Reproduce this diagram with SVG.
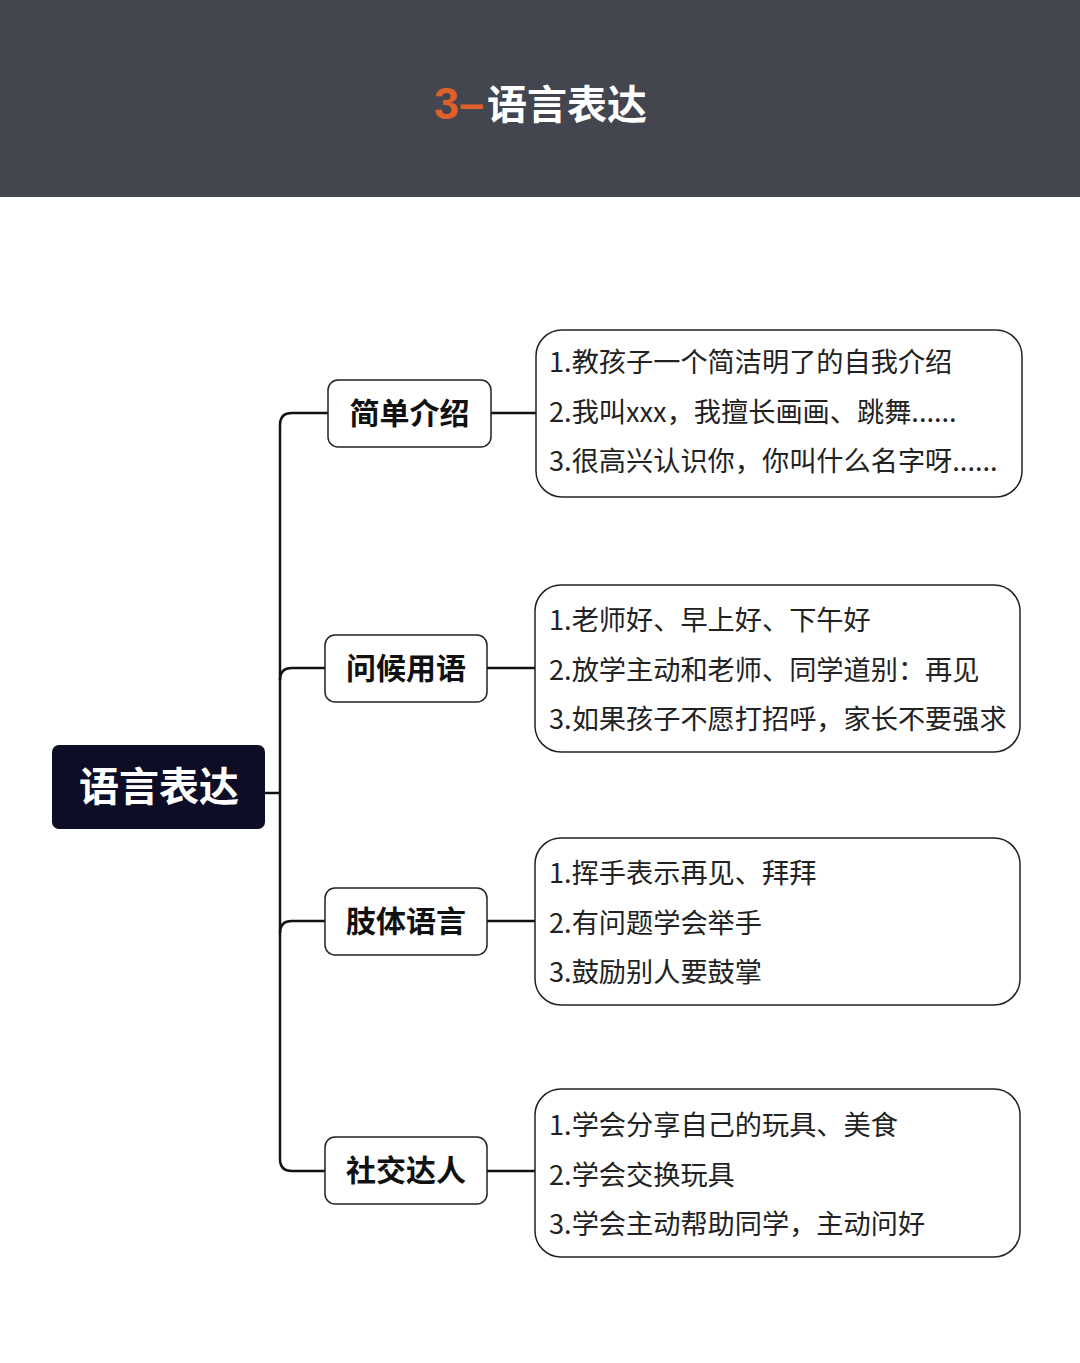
<svg xmlns="http://www.w3.org/2000/svg" width="1080" height="1363" viewBox="0 0 1080 1363">
<style>
.cn{font-family:"Noto Sans CJK SC","Noto Sans",sans-serif}
.title{font-size:40px;font-weight:700}
.num{font-family:"Liberation Sans",Arial,sans-serif;font-size:45px;font-weight:700;fill:#e0602a}
.root{font-size:40px;font-weight:700;fill:#ffffff}
.br{font-size:30px;font-weight:700;fill:#111111}
.item{font-size:27.2px;font-weight:400;fill:#222222}
.brbox{fill:#ffffff;stroke:#222222;stroke-width:1.5}
.detail{fill:#ffffff;stroke:#222222;stroke-width:1.5}
.conn{fill:none;stroke:#111111;stroke-width:2.5}
</style>
<rect x="0" y="0" width="1080" height="1363" fill="#ffffff"/>
<g id="header">
<rect x="0" y="0" width="1080" height="197" fill="#43454f"/>
<text x="434" y="119"><tspan class="num">3–</tspan><tspan class="cn title" fill="#ffffff" dx="3">语言表达</tspan></text>
</g>
<g id="connectors">
<path class="conn" d="M265 793 H280"/>
<path class="conn" d="M328 413 H292 Q280 413 280 425 V1159 Q280 1171 292 1171 H325"/>
<path class="conn" d="M280 680 Q280 668 292 668 H325"/>
<path class="conn" d="M280 933 Q280 921 292 921 H325"/>
<path class="conn" d="M491 413 H536"/>
<path class="conn" d="M487 668 H535"/>
<path class="conn" d="M487 921 H535"/>
<path class="conn" d="M487 1171 H535"/>
</g>
<g id="root">
<rect x="52" y="745" width="213" height="84" rx="7" fill="#0d0d26"/>
<text class="cn root" x="159" y="801" text-anchor="middle">语言表达</text>
</g>
<g id="b1">
<rect class="brbox" x="328" y="380" width="163" height="67" rx="10"/>
<text class="cn br" x="409.5" y="424" text-anchor="middle">简单介绍</text>
</g>
<g id="b2">
<rect class="brbox" x="325" y="635" width="162" height="67" rx="10"/>
<text class="cn br" x="406" y="679" text-anchor="middle">问候用语</text>
</g>
<g id="b3">
<rect class="brbox" x="325" y="888" width="162" height="67" rx="10"/>
<text class="cn br" x="406" y="932" text-anchor="middle">肢体语言</text>
</g>
<g id="b4">
<rect class="brbox" x="325" y="1137" width="162" height="67" rx="10"/>
<text class="cn br" x="406" y="1181" text-anchor="middle">社交达人</text>
</g>
<g id="d1">
<rect class="detail" x="536" y="330" width="486" height="167" rx="26"/>
<text class="cn item" x="549" y="372">1.教孩子一个简洁明了的自我介绍</text>
<text class="cn item" x="549" y="422">2.我叫xxx，我擅长画画、跳舞......</text>
<text class="cn item" x="549" y="471">3.很高兴认识你，你叫什么名字呀......</text>
</g>
<g id="d2">
<rect class="detail" x="535" y="585" width="485" height="167" rx="26"/>
<text class="cn item" x="549" y="630">1.老师好、早上好、下午好</text>
<text class="cn item" x="549" y="680">2.放学主动和老师、同学道别：再见</text>
<text class="cn item" x="549" y="729">3.如果孩子不愿打招呼，家长不要强求</text>
</g>
<g id="d3">
<rect class="detail" x="535" y="838" width="485" height="167" rx="26"/>
<text class="cn item" x="549" y="883">1.挥手表示再见、拜拜</text>
<text class="cn item" x="549" y="933">2.有问题学会举手</text>
<text class="cn item" x="549" y="982">3.鼓励别人要鼓掌</text>
</g>
<g id="d4">
<rect class="detail" x="535" y="1089" width="485" height="168" rx="26"/>
<text class="cn item" x="549" y="1135">1.学会分享自己的玩具、美食</text>
<text class="cn item" x="549" y="1185">2.学会交换玩具</text>
<text class="cn item" x="549" y="1234">3.学会主动帮助同学，主动问好</text>
</g>
</svg>
